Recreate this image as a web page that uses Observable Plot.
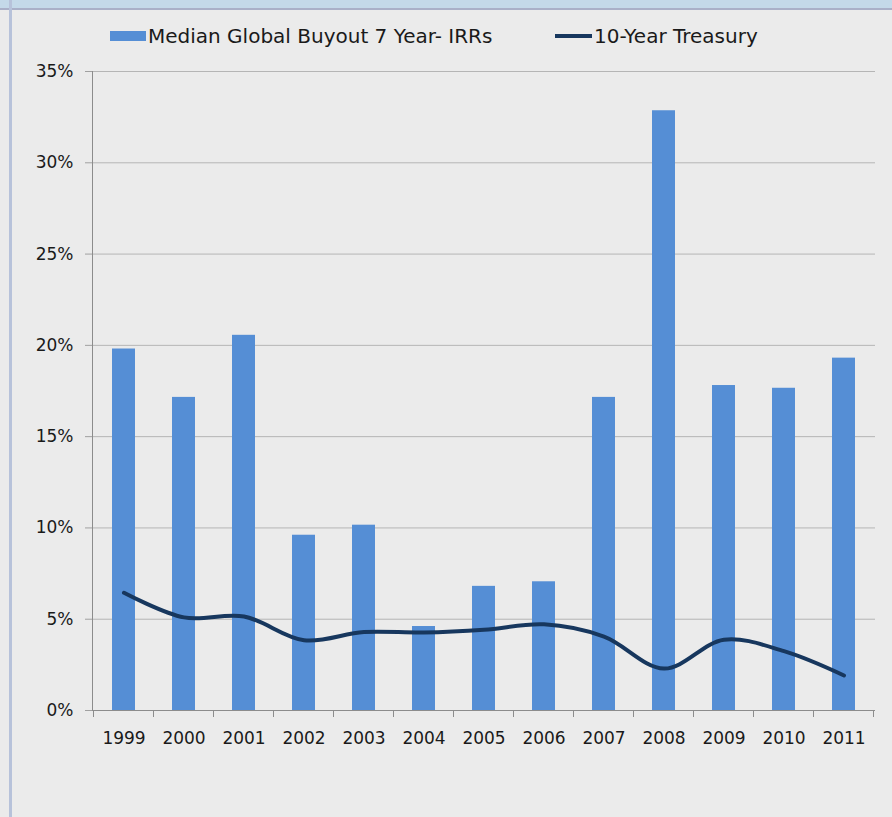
<!DOCTYPE html>
<html>
<head>
<meta charset="utf-8">
<script src="https://cdn.jsdelivr.net/npm/d3@7"></script>
<script src="https://cdn.jsdelivr.net/npm/@observablehq/plot@0.6"></script>
<style>
  html, body { margin: 0; padding: 0; background: #ebebeb; }
  #page { position: relative; width: 892px; height: 817px; overflow: hidden; background: #ebebeb; }
  #topbar { position: absolute; left: 0; top: 0; width: 892px; height: 8px; background: #c4d9e9; border-bottom: 2px solid #aab0c8; }
  #leftbar { position: absolute; left: 9px; top: 0; width: 3px; height: 817px; background: #b7c2da; }
  #chart { position: absolute; left: 0; top: 0; }
  #legend { position: absolute; top: 23px; left: 0; width: 892px; height: 26px; font-family: "DejaVu Sans", sans-serif; font-size: 20px; color: #1a1a1a; }
  .item { position: absolute; top: 0; display: flex; align-items: center; height: 26px; white-space: nowrap; }
  .sw-bar { width: 36px; height: 10px; background: #558ed5; margin-right: 2px; }
  .sw-line { width: 37px; height: 4px; background: #17375e; margin-right: 2px; }
</style>
</head>
<body>
<div id="page">
  <div id="chart"></div>
  <div id="topbar"></div>
  <div id="leftbar"></div>
  <div id="legend">
    <div class="item" style="left:110px"><span class="sw-bar"></span><span id="lg1"></span></div>
    <div class="item" style="left:555px"><span class="sw-line"></span><span id="lg2"></span></div>
  </div>
</div>
<script>
const years = ["1999","2000","2001","2002","2003","2004","2005","2006","2007","2008","2009","2010","2011"];
const buyoutIRR = [19.8, 17.15, 20.55, 9.6, 10.15, 4.6, 6.8, 7.05, 17.15, 32.85, 17.8, 17.65, 19.3];
const treasury = [6.45, 5.1, 5.15, 3.85, 4.3, 4.27, 4.42, 4.72, 4.05, 2.3, 3.88, 3.25, 1.92];
const yTicks = [0, 5, 10, 15, 20, 25, 30, 35];
const seriesNames = ["Median Global Buyout 7 Year- IRRs", "10-Year Treasury"];

document.getElementById("lg1").textContent = seriesNames[0];
document.getElementById("lg2").textContent = seriesNames[1];

const barData = years.map((y, i) => ({year: y, value: buyoutIRR[i]}));
const lineData = years.map((y, i) => ({year: y, value: treasury[i]}));

// x-axis ticks at band boundaries
function bandBoundaryTicks(index, scales, values, dimensions) {
  const x = scales.x, y = scales.y;
  const bw = scales.scales.x.bandwidth;
  const step = scales.scales.x.step;
  const g = d3.create("svg:g");
  const y0 = y(0);
  const xs = years.map(v => x(v) - (step - bw) / 2);
  xs.push(x(years[years.length - 1]) + bw + (step - bw) / 2);
  for (const xv of xs) {
    g.append("line").attr("x1", xv).attr("x2", xv).attr("y1", y0).attr("y2", y0 + 7)
      .attr("stroke", "#8c8c8c").attr("stroke-width", 1);
  }
  return g.node();
}

const chart = Plot.plot({
  width: 892,
  height: 817,
  marginLeft: 92,
  marginRight: 17,
  marginTop: 71,
  marginBottom: 107,
  style: {background: "transparent", fontFamily: "DejaVu Sans, sans-serif", fontSize: "17px", color: "#1a1a1a"},
  x: {type: "band", domain: years, paddingInner: 0.62, paddingOuter: 0.31, align: 0.5, label: null},
  y: {domain: [0, 35], label: null},
  marks: [
    Plot.gridY({ticks: yTicks, stroke: "#b5b5b5", strokeOpacity: 1, strokeWidth: 1}),
    Plot.barY(barData, {x: "year", y: "value", fill: "#558ed5"}),
    Plot.line(lineData, {x: "year", y: "value", stroke: "#17375e", strokeWidth: 4, curve: "catmull-rom", strokeLinecap: "round"}),
    Plot.axisY({ticks: yTicks, tickFormat: d => d + "%", tickSize: 7, tickPadding: 12, stroke: "#a0a0a0", fill: "#1a1a1a", fontSize: 17}),
    Plot.frame({anchor: "left", stroke: "#8c8c8c"}),
    Plot.ruleY([0], {stroke: "#8c8c8c"}),
    Plot.axisX({tickSize: 0, tickPadding: 21, fill: "#1a1a1a", fontSize: 17}),
    bandBoundaryTicks
  ]
});
document.getElementById("chart").appendChild(chart);
</script>
</body>
</html>
